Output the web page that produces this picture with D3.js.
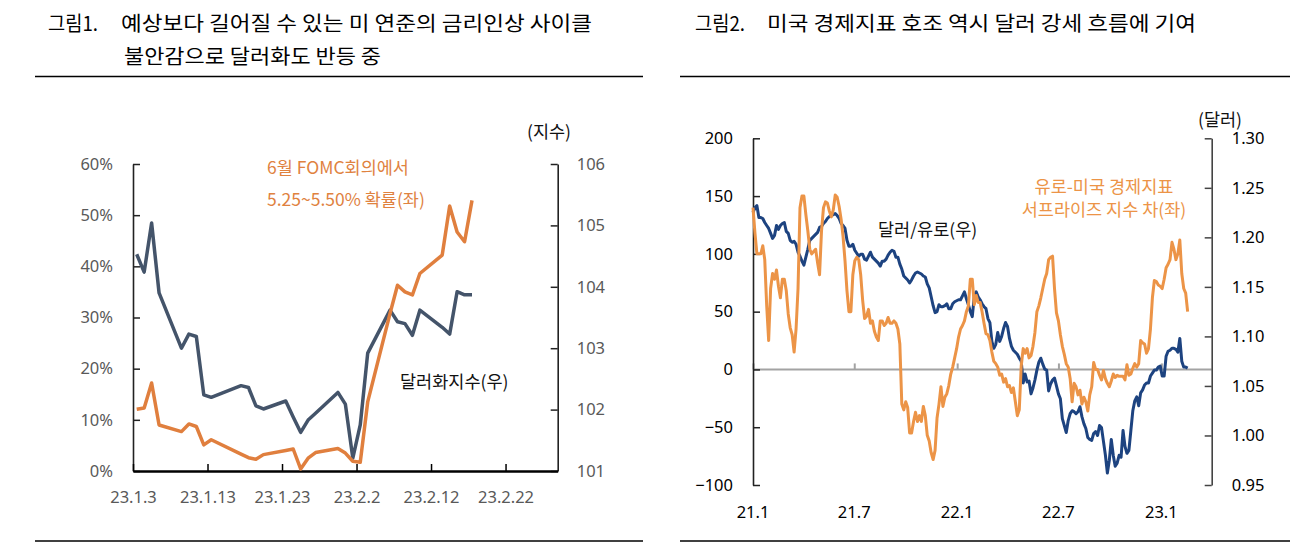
<!DOCTYPE html>
<html><head><meta charset="utf-8">
<script src="https://cdn.jsdelivr.net/npm/d3@7"></script>
<style>
html,body{margin:0;padding:0;background:#fff;}
svg{display:block;}
</style></head><body>
<svg id="c" width="1301" height="553"></svg>
<script>
// ---------------- DATA ----------------
// Figure 1 (daily, 2023)
const fig1Dates = ["2023-01-03","2023-01-04","2023-01-05","2023-01-06","2023-01-09","2023-01-10","2023-01-11","2023-01-12","2023-01-13",
  "2023-01-17","2023-01-18","2023-01-19","2023-01-20","2023-01-23","2023-01-24","2023-01-25","2023-01-26","2023-01-27",
  "2023-01-30","2023-01-31","2023-02-01","2023-02-02","2023-02-03","2023-02-06","2023-02-07","2023-02-08","2023-02-09","2023-02-10",
  "2023-02-13","2023-02-14","2023-02-15","2023-02-16","2023-02-17"];
const dollarIndex = [104.53,104.24,105.04,103.90,103.00,103.23,103.19,102.24,102.20,
  102.39,102.36,102.06,102.01,102.14,101.88,101.63,101.83,101.94,
  102.28,102.09,101.21,101.75,102.92,103.62,103.43,103.40,103.21,103.62,
  103.34,103.23,103.92,103.87,103.87];
const fomcProb = [0.1205,0.123,0.172,0.090,0.077,0.092,0.087,0.051,0.061,
  0.033,0.026,0.023,0.032,0.040,0.043,0.004,0.025,0.036,
  0.044,0.035,0.019,0.017,0.135,0.308,0.363,0.350,0.344,0.386,
  0.422,0.518,0.467,0.448,0.529];
const fig1XTicks = ["2023-01-03","2023-01-13","2023-01-23","2023-02-02","2023-02-12","2023-02-22"];
const fig1LeftTicks = [0,0.1,0.2,0.3,0.4,0.5,0.6];
const fig1RightTicks = [101,102,103,104,105,106];

// Figure 2 (samples every 3.5 days starting 2021-01-01)
const fig2Start = "2021-01-01";
const fig2StepHours = 84;
const surpriseDiff = [
  140,118,100,100,100,107,95,55,25,70,83,78,86,72,62,78,78,68,48,36,
  30,15,35,70,140,150,150,134,120,104,100,102,104,92,82,120,140,145,144,137,
  132,138,151,149,141,130,115,94,68,50,50,82,94,97,95,82,60,44,46,52,
  40,42,33,28,25,42,42,38,40,45,40,40,42,40,35,22,-30,-35,-28,-33,
  -55,-55,-45,-37,-45,-40,-45,-32,-40,-57,-62,-72,-78,-70,-42,-30,-15,-32,-24,-21,
  -14,-4,2,10,18,28,35,38,42,50,55,78,78,56,64,58,58,50,40,31,
  30,25,15,7,5,2,-5,-4,-11,-8,-15,-14,-20,-16,-28,-40,-35,3,18,14,
  18,10,12,20,32,50,55,62,70,78,83,95,97,98,70,49,42,30,20,13,
  5,2,-8,-28,-12,-15,-22,-18,-30,-24,-28,-36,-22,-15,6,0,0,-5,-9,-1,
  -8,-12,-15,-10,-4,-7,-5,-6,-6,-6,-9,4,-5,-4,1,5,2,5,25,23,
  22,14,18,35,62,77,76,73,72,70,78,88,91,95,110,104,95,100,112,83,
  70,66,50];
const eurusd = [
  1.225,1.230,1.232,1.220,1.220,1.219,1.215,1.212,1.209,1.204,1.199,1.202,1.212,1.208,1.212,1.214,1.215,1.206,1.204,1.197,
  1.195,1.196,1.193,1.185,1.181,1.176,1.172,1.180,1.188,1.197,1.199,1.201,1.203,1.205,1.210,1.211,1.214,1.216,1.219,1.221,
  1.222,1.223,1.224,1.222,1.219,1.214,1.212,1.209,1.197,1.191,1.191,1.193,1.187,1.184,1.181,1.183,1.183,1.178,1.177,1.181,
  1.185,1.180,1.178,1.176,1.174,1.171,1.176,1.176,1.178,1.182,1.185,1.187,1.186,1.180,1.180,1.173,1.168,1.161,1.159,1.157,
  1.154,1.157,1.161,1.164,1.165,1.164,1.163,1.161,1.160,1.153,1.149,1.140,1.131,1.124,1.125,1.132,1.130,1.130,1.131,1.133,
  1.128,1.128,1.133,1.135,1.136,1.137,1.137,1.141,1.145,1.138,1.132,1.125,1.120,1.140,1.145,1.140,1.137,1.133,1.130,1.128,
  1.118,1.114,1.095,1.088,1.092,1.104,1.095,1.100,1.108,1.114,1.110,1.098,1.090,1.086,1.084,1.082,1.078,1.075,1.053,1.062,
  1.054,1.055,1.042,1.048,1.056,1.066,1.074,1.078,1.072,1.067,1.066,1.045,1.052,1.056,1.058,1.050,1.042,1.037,1.017,1.010,
  1.003,1.015,1.022,1.025,1.024,1.022,1.024,1.029,1.019,1.012,1.007,0.998,0.996,0.995,1.002,1.004,1.000,1.010,1.008,0.994,
  0.980,0.962,0.975,0.996,0.980,0.969,0.972,0.980,0.978,1.005,0.989,0.982,0.985,1.005,1.025,1.035,1.039,1.030,1.043,1.046,
  1.051,1.053,1.053,1.060,1.063,1.066,1.066,1.069,1.070,1.060,1.060,1.080,1.085,1.086,1.088,1.088,1.087,1.084,1.098,1.075,
  1.069,1.069,1.068];
const fig2XTicks = ["2021-01-01","2021-07-01","2022-01-01","2022-07-01","2023-01-01"];
const fig2LeftTicks = [-100,-50,0,50,100,150,200];
const fig2RightTicks = [0.95,1.00,1.05,1.10,1.15,1.20,1.25,1.30];

// ---------------- DRAW ----------------
const parse = d3.utcParse("%Y-%m-%d");
const svg = d3.select("#c");
const KR = '"Noto Sans CJK KR","Noto Sans",sans-serif';
const LAT = '"Noto Sans","Open Sans",sans-serif';

// header / footer rules
[[35,643],[680,1290]].forEach(([a,b])=>{
  [76.5,541].forEach(y=>svg.append("line").attr("x1",a).attr("x2",b).attr("y1",y).attr("y2",y)
    .attr("stroke","#000").attr("stroke-width",1.3));
});

function title(x,y,txt,len){
  const t = svg.append("text").attr("x",x).attr("y",y).attr("dominant-baseline","central")
    .attr("font-family",KR).attr("font-size",20).attr("fill","#000").text(txt);
  if(len) t.attr("textLength",len).attr("lengthAdjust","spacingAndGlyphs");
}
title(48,22,"그림1.",50);
title(121,22,"예상보다 길어질 수 있는 미 연준의 금리인상 사이클",471);
title(124,55,"불안감으로 달러화도 반등 중",257);
title(695,22,"그림2.",50);
title(767,22,"미국 경제지표 호조 역시 달러 강세 흐름에 기여",429);

function styleAxis(g,color,textColor,width){
  g.selectAll(".domain").attr("stroke",color).attr("stroke-width",width);
  g.selectAll(".tick line").attr("stroke",color).attr("stroke-width",1.5);
  g.selectAll("text").attr("font-family",LAT).attr("font-size",16.5).attr("fill",textColor);
}

// ===== Figure 1 =====
const d1 = fig1Dates.map(parse);
const xL = d3.scaleUtc().domain([parse("2023-01-03"), parse("2023-03-01")]).range([133,557.7]);
const yL = d3.scaleLinear().domain([0,0.6]).range([471,164]);
const yR = d3.scaleLinear().domain([101,106]).range([471,164]);
const xMid = d => xL(d3.utcHour.offset(d,12));

const gL = svg.append("g").attr("transform","translate(133,0)")
  .call(d3.axisLeft(yL).tickValues(fig1LeftTicks).tickFormat(d3.format(".0%")).tickSize(-7).tickSizeOuter(0).tickPadding(20));
styleAxis(gL,"#222","#595959",1.6);
const gR = svg.append("g").attr("transform","translate(557.7,0)")
  .call(d3.axisRight(yR).tickValues(fig1RightTicks).tickFormat(d3.format("d")).tickSize(-7).tickSizeOuter(0).tickPadding(19));
styleAxis(gR,"#222","#595959",1.6);
const gB = svg.append("g").attr("transform","translate(0,471)")
  .call(d3.axisBottom(xL).tickValues(fig1XTicks.map(parse)).tickFormat(d3.utcFormat("%y.%-m.%-d")).tickSize(-7).tickSizeOuter(0).tickPadding(20));
styleAxis(gB,"#000","#595959",2.4);

svg.append("path").datum(d1.map((d,i)=>[xMid(d),yR(dollarIndex[i])]))
  .attr("d",d3.line()).attr("fill","none").attr("stroke","#44546a").attr("stroke-width",3.5)
  .attr("stroke-linejoin","round");
svg.append("path").datum(d1.map((d,i)=>[xMid(d),yL(fomcProb[i])]))
  .attr("d",d3.line()).attr("fill","none").attr("stroke","#e07f3e").attr("stroke-width",3.5)
  .attr("stroke-linejoin","round");

function label(x,y,txt,color,size,anchor){
  svg.append("text").attr("x",x).attr("y",y).attr("dominant-baseline","central")
    .attr("text-anchor",anchor||"start").attr("font-family",KR).attr("font-size",size)
    .attr("fill",color).text(txt);
}
label(267,166.7,"6월 FOMC회의에서","#e0823f",17.5);
label(267,198.3,"5.25~5.50% 확률(좌)","#e0823f",17.5);
label(527,130,"(지수)","#111",17.5);
label(400,380,"달러화지수(우)","#111",17.5);

// ===== Figure 2 =====
const start2 = parse(fig2Start);
const d2 = surpriseDiff.map((v,i)=>d3.utcHour.offset(start2,fig2StepHours*i));
const xR2 = d3.scaleUtc().domain([parse("2021-01-01"), parse("2023-04-01")]).range([753,1211.7]);
const yRL = d3.scaleLinear().domain([-100,200]).range([485,138.3]);
const yRR = d3.scaleLinear().domain([0.95,1.30]).range([485,138.3]);

// zero line with date ticks
svg.append("line").attr("x1",753).attr("x2",1211.7).attr("y1",yRL(0)).attr("y2",yRL(0))
  .attr("stroke","#a3a3a3").attr("stroke-width",2);
const gX2 = svg.append("g").attr("transform",`translate(0,${yRL(0)})`)
  .call(d3.axisBottom(xR2).tickValues(fig2XTicks.map(parse)).tickFormat("").tickSize(-6).tickSizeOuter(0));
gX2.select(".domain").remove();
gX2.selectAll(".tick line").attr("stroke","#a3a3a3").attr("stroke-width",2);
svg.append("g").selectAll("text").data(fig2XTicks.map(parse)).join("text")
  .attr("x",d=>xR2(d)).attr("y",511).attr("dominant-baseline","central").attr("text-anchor","middle")
  .attr("font-family",LAT).attr("font-size",16.5).attr("fill","#000")
  .text(d3.utcFormat("%y.%-m"));

const gL2 = svg.append("g").attr("transform","translate(753,0)")
  .call(d3.axisLeft(yRL).tickValues(fig2LeftTicks).tickSize(-7).tickSizeOuter(0).tickPadding(20));
styleAxis(gL2,"#222","#000",1.6);
const gR2 = svg.append("g").attr("transform","translate(1211.7,0)")
  .call(d3.axisRight(yRR).tickValues(fig2RightTicks).tickFormat(d3.format(".2f")).tickSize(-7).tickSizeOuter(0).tickPadding(20));
styleAxis(gR2,"#444","#000",1.6);

svg.append("path").datum(d2.map((d,i)=>[xR2(d),yRR(eurusd[i])]))
  .attr("d",d3.line()).attr("fill","none").attr("stroke","#1d4380").attr("stroke-width",3)
  .attr("stroke-linejoin","round");
svg.append("path").datum(d2.map((d,i)=>[xR2(d),yRL(surpriseDiff[i])]))
  .attr("d",d3.line()).attr("fill","none").attr("stroke","#ec9447").attr("stroke-width",3)
  .attr("stroke-linejoin","round");

label(1198,118.3,"(달러)","#111",17.5);
label(878,228.3,"달러/유로(우)","#111",17.5);
label(1104,185.5,"유로-미국 경제지표","#ec9447",17.5,"middle");
label(1104,208,"서프라이즈 지수 차(좌)","#ec9447",17.5,"middle");
</script></body></html>
